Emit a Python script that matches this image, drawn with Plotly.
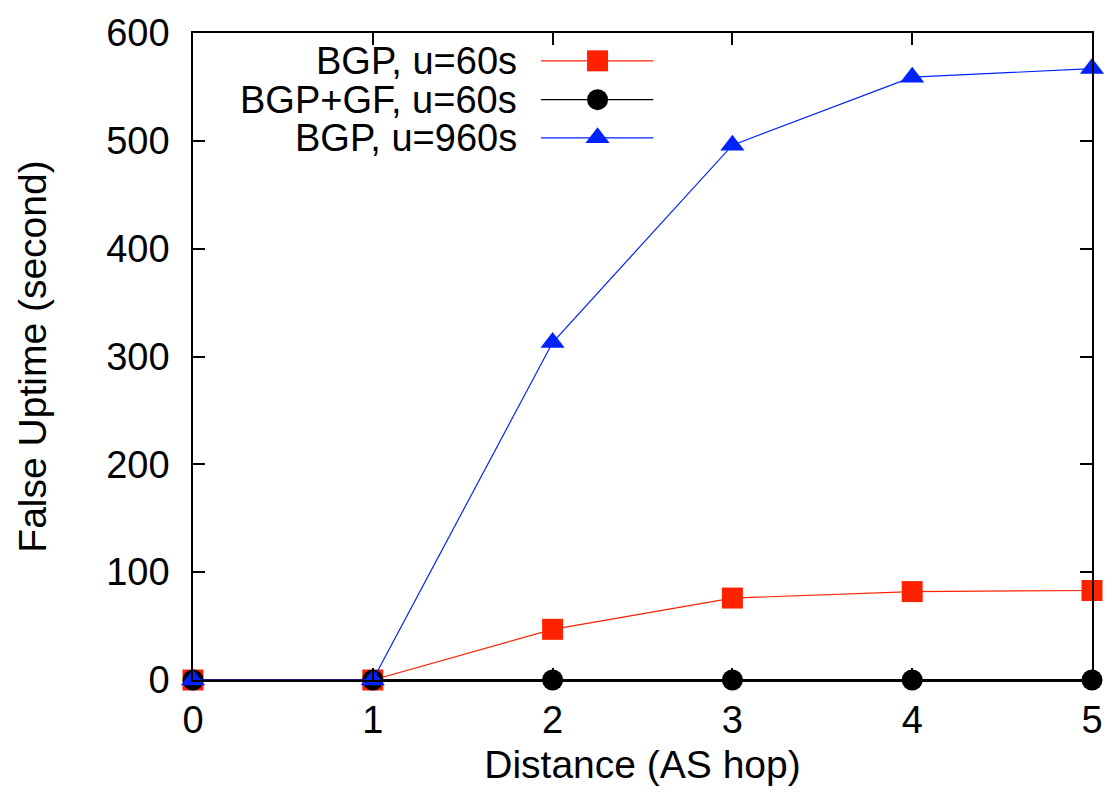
import plotly.graph_objects as go

# AS-hop distance and measured false uptime (seconds)
hops = [0, 1, 2, 3, 4, 5]
bgp_u60 = [0, 0, 47, 76, 82, 83]
bgp_gf_u60 = [0, 0, 0, 0, 0, 0]
bgp_u960 = [0, 0, 313, 496, 559, 567]

series_names = ["BGP, u=60s", "BGP+GF, u=60s", "BGP, u=960s"]
series_values = [bgp_u60, bgp_gf_u60, bgp_u960]
series_colors = ["#ff2200", "#000000", "#0022ff"]
series_symbols = ["square", "circle", "triangle-up"]

FONT = "Liberation Sans, Arial, sans-serif"
FS = 39
KEY_FS = 38
TICK_FS = 38

fig = go.Figure()

for name, vals, col, sym in zip(series_names, series_values, series_colors, series_symbols):
    fig.add_trace(go.Scatter(
        x=hops, y=vals, name=name, mode="lines+markers",
        line=dict(color=col, width=1.2),
        marker=dict(symbol=sym, size=21, color=col, line=dict(width=0)),
        cliponaxis=False, showlegend=False,
    ))

# Key drawn gnuplot-style: right-aligned label, then a sample line with its marker
key_rows = [0.957, 0.897, 0.838]
for name, col, sym, ky in zip(series_names, series_colors, series_symbols, key_rows):
    fig.add_trace(go.Scatter(
        x=[0.387, 0.512], y=[ky, ky],
        xaxis="x2", yaxis="y2", mode="lines",
        line=dict(color=col, width=1.2), showlegend=False, hoverinfo="skip",
    ))
    fig.add_trace(go.Scatter(
        x=[0.450], y=[ky], xaxis="x2", yaxis="y2", mode="markers",
        marker=dict(symbol=sym, size=21, color=col, line=dict(width=0)),
        showlegend=False, hoverinfo="skip",
    ))
    fig.add_annotation(
        x=0.361, y=ky, xref="x2", yref="y2", text=name, showarrow=False,
        xanchor="right", yanchor="middle", height=36, valign="middle",
        borderpad=0,
        font=dict(family=FONT, size=KEY_FS, color="black"),
    )

axis_common = dict(
    showline=True, linecolor="black", linewidth=1.5, mirror="ticks",
    ticks="inside", ticklen=12, tickwidth=1.5, tickcolor="black",
    showgrid=False, zeroline=False,
    tickfont=dict(family=FONT, size=TICK_FS, color="black"),
)

fig.update_layout(
    width=1115, height=799,
    margin=dict(l=193, r=20, t=27, b=119),
    paper_bgcolor="white", plot_bgcolor="white",
    font=dict(family=FONT, size=FS, color="black"),
    xaxis=dict(
        range=[0, 5], tickvals=hops, ticklabelstandoff=6,
        title=dict(text="Distance (AS hop)", font=dict(family=FONT, size=FS), standoff=10),
        **axis_common,
    ),
    yaxis=dict(
        range=[0, 600], tickvals=[0, 100, 200, 300, 400, 500, 600], ticklabelstandoff=14,
        title=dict(text="False Uptime (second)", font=dict(family=FONT, size=FS), standoff=48),
        **axis_common,
    ),
    xaxis2=dict(range=[0, 1], overlaying="x", visible=False, fixedrange=True),
    yaxis2=dict(range=[0, 1], overlaying="y", visible=False, fixedrange=True),
    showlegend=False,
)

# Horizontal line at y = 0
fig.add_shape(type="line", xref="x", yref="y", x0=0, x1=5, y0=0, y1=0,
              line=dict(color="black", width=2), layer="below")

fig.write_html("out.html")
